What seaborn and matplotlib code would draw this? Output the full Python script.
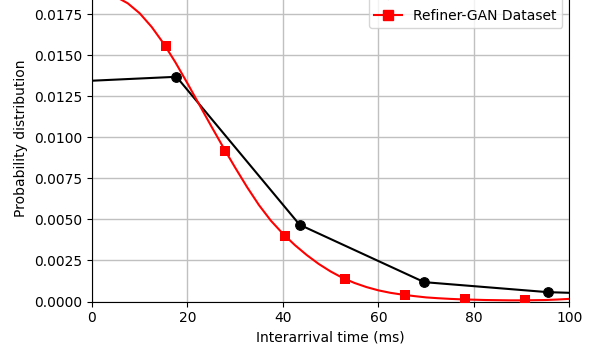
import numpy as np
import pandas as pd
import seaborn as sns
import matplotlib
matplotlib.use("Agg")
import matplotlib.pyplot as plt
from matplotlib.lines import Line2D
from matplotlib.ticker import MultipleLocator, FormatStrFormatter

# real dataset (histogram points, black)
real_x = [-8.2, 17.7, 43.5, 69.6, 95.5, 121.3]
real_y = [0.01335, 0.0137, 0.00468, 0.00118, 0.00057, 0.00034]

# Refiner-GAN curve (red, smooth)
gan_x = [0, 2.5, 5, 7.5, 10, 12.5, 15, 17.5, 20, 22.5, 25, 27.5, 30, 32.5,
         35, 37.5, 40, 42.5, 45, 47.5, 50, 52.5, 55, 57.5, 60, 62.5, 65,
         67.5, 70, 72.5, 75, 77.5, 80, 82.5, 85, 87.5, 90, 92.5, 95, 97.5, 100]
gan_y = [0.01874, 0.01877, 0.01858, 0.01818, 0.01757, 0.01674, 0.01573,
         0.01457, 0.01330, 0.01199, 0.01068, 0.00940, 0.00816, 0.00697,
         0.00587, 0.00492, 0.00413, 0.00344, 0.00283, 0.00229, 0.00183,
         0.00144, 0.00113, 0.00088, 0.00068, 0.00053, 0.00042, 0.00033,
         0.00025, 0.00020, 0.00016, 0.00013, 0.00011, 0.00009, 0.00008,
         0.00007, 0.00007, 0.00008, 0.00009, 0.00012, 0.00016]

# Refiner-GAN markers
gan_mx = [2.9, 15.4, 27.9, 40.5, 53.0, 65.6, 78.2, 90.8]
gan_my = [0.01877, 0.01555, 0.0092, 0.00399, 0.0014, 0.0004, 0.00013, 0.00007]

fig = plt.figure(figsize=(5.98, 3.6), dpi=100)
ax = fig.add_axes([92 / 598, 58.5 / 360, 477.3 / 598, 326.4 / 360])

real = pd.DataFrame({"x": real_x, "y": real_y})
gan = pd.DataFrame({"x": gan_x, "y": gan_y})
gan_m = pd.DataFrame({"x": gan_mx, "y": gan_my})

sns.lineplot(data=real, x="x", y="y", color="black", marker="o", markersize=7,
             markeredgecolor="black", linewidth=1.5, sort=False, ax=ax)
sns.lineplot(data=gan, x="x", y="y", color="red", linewidth=1.5, sort=False, ax=ax)
sns.scatterplot(data=gan_m, x="x", y="y", color="red", marker="s", s=55,
                edgecolor="red", linewidth=0, ax=ax, zorder=3)

ax.set_xlim(0, 100)
ax.set_ylim(0, 0.0199)
ax.xaxis.set_major_locator(MultipleLocator(20))
ax.yaxis.set_major_locator(MultipleLocator(0.0025))
ax.yaxis.set_major_formatter(FormatStrFormatter("%.4f"))
ax.grid(True, color="#c0c0c0", linewidth=1)
ax.set_axisbelow(True)
ax.set_xlabel("Interarrival time (ms)")
ax.set_ylabel("Probability distribution")

handles = [
    Line2D([], [], color="black", marker="o", markersize=7, linewidth=1.5),
    Line2D([], [], color="red", marker="s", markersize=7, linewidth=1.5),
]
ax.legend(handles, ["Real Dataset", "Refiner-GAN Dataset"], loc="upper right")

fig.savefig("out.png", dpi=100)
